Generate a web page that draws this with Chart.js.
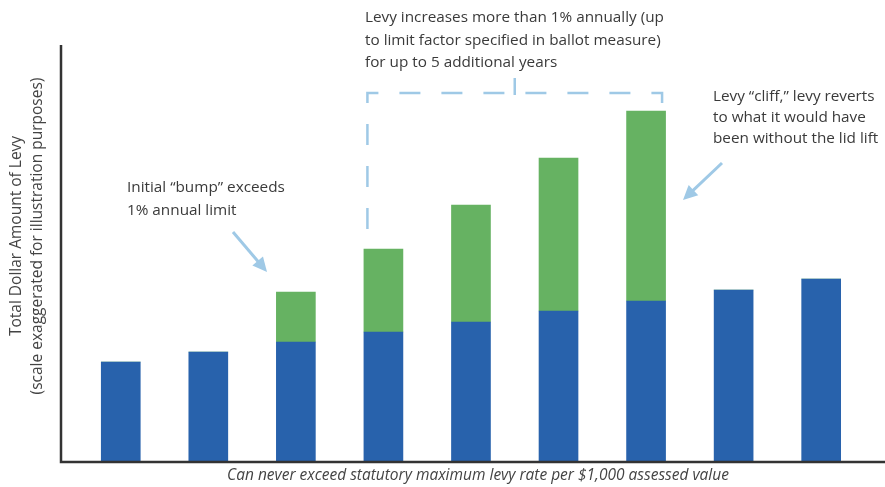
<!DOCTYPE html>
<html>
<head>
<meta charset="utf-8">
<script src="https://cdn.jsdelivr.net/npm/chart.js@4/dist/chart.umd.min.js"></script>
<style>
  html, body { margin: 0; padding: 0; background: #fff; }
  #wrap { width: 885px; height: 487px; position: relative; }
</style>
</head>
<body>
<div id="wrap"><canvas id="levyChart"></canvas></div>
<script>
// Bar positions (years) and levy heights
const years = [0, 1, 2, 3, 4, 5, 6, 7, 8];
const baseLevy = [99, 109, 119, 129, 139, 150, 160, 171, 182];
const lidLiftExtra = [0, 0, 50, 83, 117, 153, 190, 0, 0];

const yTitle = ['Total Dollar Amount of Levy', '(scale exaggerated for illustration purposes)'];
const xTitle = 'Can never exceed statutory maximum levy rate per $1,000 assessed value';
const noteIncrease = ['Levy increases more than 1% annually (up', 'to limit factor specified in ballot measure)', 'for up to 5 additional years'];
const noteBump = ['Initial \u201cbump\u201d exceeds', '1% annual limit'];
const noteCliff = ['Levy \u201ccliff,\u201d levy reverts', 'to what it would have', 'been without the lid lift'];

const FONT = '"Open Sans", "Lato", sans-serif';
const TEXT = '#3a3a3a';
const ACCENT = '#9fc9e6';

function arrow(ctx, x1, y1, x2, y2) {
    const ang = Math.atan2(y2 - y1, x2 - x1);
    const head = 16;
    ctx.beginPath();
    ctx.moveTo(x1, y1);
    ctx.lineTo(x2 - Math.cos(ang) * head * 0.8, y2 - Math.sin(ang) * head * 0.8);
    ctx.stroke();
    ctx.beginPath();
    ctx.moveTo(x2, y2);
    ctx.lineTo(x2 - head * Math.cos(ang - 0.45), y2 - head * Math.sin(ang - 0.45));
    ctx.lineTo(x2 - head * Math.cos(ang + 0.45), y2 - head * Math.sin(ang + 0.45));
    ctx.closePath();
    ctx.fill();
}

// Axes, titles and annotations
const decorations = {
    id: 'decorations',
    afterDatasetsDraw(chart) {
        const ctx = chart.ctx;
        const area = chart.chartArea;
        const xs = chart.scales.x;
        const ys = chart.scales.y;
        ctx.save();

        // axis lines
        ctx.strokeStyle = '#333';
        ctx.lineWidth = 2.5;
        ctx.beginPath();
        ctx.moveTo(area.left + 1, area.top);
        ctx.lineTo(area.left + 1, area.bottom + 1);
        ctx.lineTo(area.right, area.bottom + 1);
        ctx.stroke();

        // y title
        ctx.fillStyle = '#444';
        ctx.font = '15.5px ' + FONT;
        ctx.textAlign = 'center';
        ctx.textBaseline = 'middle';
        ctx.save();
        ctx.translate(17, 236);
        ctx.rotate(-Math.PI / 2);
        ctx.fillText(yTitle[0], 0, 0);
        ctx.fillText(yTitle[1], 0, 21);
        ctx.restore();

        // x title
        ctx.font = 'italic 15.5px ' + FONT;
        ctx.fillText(xTitle, 478, 476);

        // notes
        ctx.fillStyle = TEXT;
        ctx.font = '15.3px ' + FONT;
        ctx.textAlign = 'left';
        noteIncrease.forEach((t, i) => ctx.fillText(t, 365, 18 + i * 22.5));
        noteBump.forEach((t, i) => ctx.fillText(t, 127, 188 + i * 22.5));
        noteCliff.forEach((t, i) => ctx.fillText(t, 713, 97 + i * 21));

        // dashed bracket over the lid-lift years
        const left = xs.getPixelForValue(3) - 16;
        const right = xs.getPixelForValue(6) + 16;
        const top = ys.getPixelForValue(368);
        const legEnd = ys.getPixelForValue(baseLevy[3] + lidLiftExtra[3]) - 2;
        ctx.strokeStyle = ACCENT;
        ctx.fillStyle = ACCENT;
        ctx.lineWidth = 2.5;
        ctx.setLineDash([21, 21]);
        ctx.lineDashOffset = 24;
        ctx.beginPath();
        ctx.moveTo(left, legEnd);
        ctx.lineTo(left, top);
        ctx.lineTo(right, top);
        ctx.lineTo(right, top + 10);
        ctx.stroke();
        ctx.setLineDash([]);
        const mid = (left + right) / 2;
        ctx.beginPath();
        ctx.moveTo(mid, top - 15);
        ctx.lineTo(mid, top + 2);
        ctx.stroke();

        // arrows
        ctx.lineWidth = 3;
        arrow(ctx, 233, 232, 267, 272);
        arrow(ctx, 722, 163, 683, 200);

        ctx.restore();
    }
};

new Chart(document.getElementById('levyChart').getContext('2d'), {
    type: 'bar',
    data: {
        datasets: [{
            label: 'Base levy',
            data: years.map((x, i) => ({ x: x, y: baseLevy[i] })),
            backgroundColor: '#2862ac',
            borderWidth: 0
        }, {
            label: 'Lid lift',
            data: years.map((x, i) => ({ x: x, y: lidLiftExtra[i] })),
            backgroundColor: '#66b262',
            borderWidth: 0
        }]
    },
    options: {
        responsive: true,
        maintainAspectRatio: false,
        animation: false,
        layout: {
            padding: { left: 60, top: 45, right: 0, bottom: 26 }
        },
        plugins: {
            legend: { display: false },
            tooltip: { enabled: false }
        },
        datasets: {
            bar: {
                barThickness: 39
            }
        },
        scales: {
            x: {
                type: 'linear',
                display: false,
                offset: false,
                stacked: true,
                min: -0.694,
                max: 8.729
            },
            y: {
                display: false,
                stacked: true,
                min: 0,
                max: 416
            }
        }
    },
    plugins: [decorations]
});
</script>
</body>
</html>
